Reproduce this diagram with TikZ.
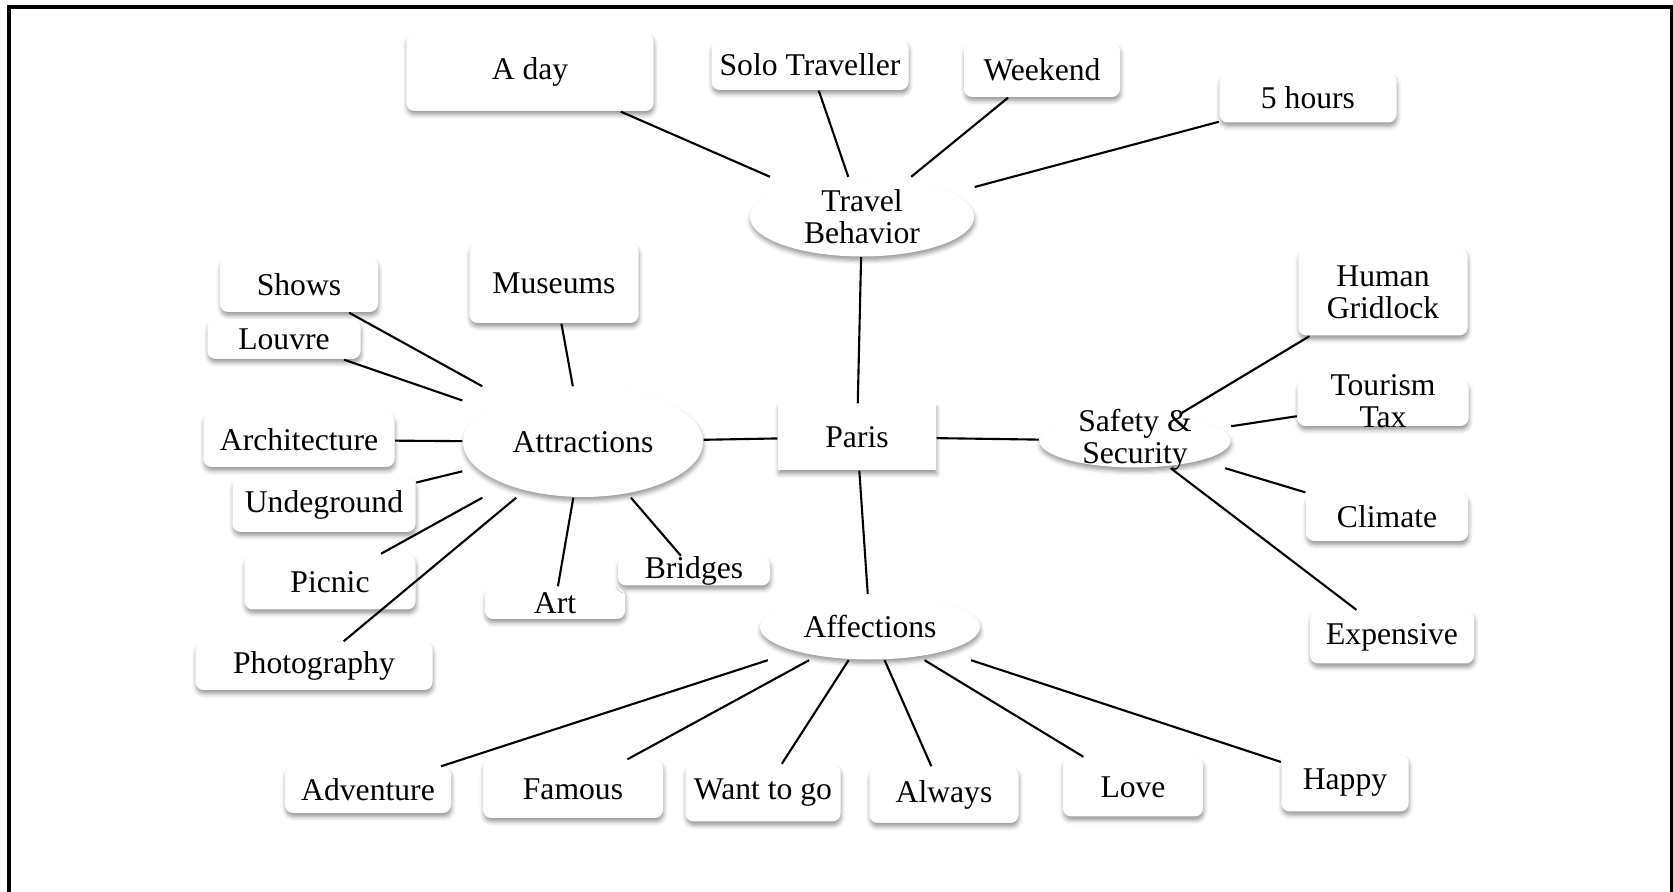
\documentclass[tikz,border=0pt]{standalone}
\usepackage{fontspec}
\setmainfont{Liberation Serif}
\usetikzlibrary{shapes.geometric,shadows.blur}
\begin{document}
\begin{tikzpicture}[x=0.01cm, y=-0.01cm,
  every node/.style={font=\fontsize{9pt}{9.1pt}\selectfont, inner sep=0pt, align=center},
  soft/.style={blur shadow={shadow xshift=0.2pt, shadow yshift=-1.1pt, shadow blur radius=1.2pt, shadow opacity=40}},
  card/.style 2 args={rectangle, rounded corners=2.3pt, fill=white, soft,
    minimum width=#1*0.01cm, minimum height=#2*0.01cm},
  plaincard/.style 2 args={rectangle, fill=white, soft,
    minimum width=#1*0.01cm, minimum height=#2*0.01cm},
  hub/.style 2 args={ellipse, fill=white, soft,
    minimum width=#1*0.01cm, minimum height=#2*0.01cm},
  hubframe/.style 2 args={rectangle, minimum width=#1*0.01cm, minimum height=#2*0.01cm},
  link/.style={line width=0.6pt, black}]

\useasboundingbox (0,0) rectangle (1673,892);
% outer frame, open at the bottom
\draw[line width=1.15pt] (9,892) -- (9,7) -- (1672,7) -- (1672,892);

% centre
\node[plaincard={158}{66}] (paris) at (857,437) {Paris};

% hubs: the ellipse and the rectangle the connectors meet
\node[hubframe={224}{79}] (travel) at (862,217) {};
\node[hub={224}{79}] (travelE) at (travel) {Travel\\Behavior};
\node[hubframe={240}{110}] (attr) at (583,442) {};
\node[hub={240}{110}] (attrE) at (attr) {Attractions};
\node[hubframe={191}{53}] (safety) at (1135,441) {};
\node[hub={191}{53}] (safetyE) at (safety) {};
\node (safetyT) at (1135,440) {Safety \&\\Security};
\node[hubframe={220}{65}] (affect) at (870,627) {};
\node[hub={220}{65}] (affectE) at (affect) {Affections};

% travel behaviour
\node[card={247}{78}] (aday) at (530,72) {A day};
\node[card={197}{50}] (solo) at (810,65) {Solo Traveller};
\node[card={156}{54}] (weekend) at (1042,70) {Weekend};
\node[card={177}{49}] (hours) at (1308,98) {5 hours};

% attractions
\node[card={158}{54}] (shows) at (299,285) {Shows};
\node[card={169}{80}] (museums) at (554,283) {Museums};
\node[card={153}{40}] (louvre) at (284,339) {Louvre};
\node[card={191}{54}] (archi) at (299,440) {Architecture};
\node[card={183}{54}] (under) at (324,505) {Undeground};
\node[card={171}{55}] (picnic) at (330,582) {Picnic};
\node[card={237}{48}] (photo) at (314,666) {Photography};
\node[card={140}{32}] (art) at (555,603) {Art};
\node[card={152}{29}] (bridges) at (694,571) {Bridges};

% safety & security
\node[card={169}{87}] (human) at (1383,292) {Human\\Gridlock};
\node[card={171}{46}] (tax) at (1383,403) {};
\node (taxT) at (1383,401) {Tourism\\Tax};
\node[card={162}{48}] (climate) at (1387,517) {Climate};
\node[card={164}{53}] (expensive) at (1392,637) {Expensive};

% affections
\node[card={166}{46}] (adventure) at (368,790) {Adventure};
\node[card={180}{58}] (famous) at (573,789) {Famous};
\node[card={155}{57}] (wantgo) at (763,793) {Want to go};
\node[card={149}{56}] (always) at (944,795) {Always};
\node[card={140}{59}] (love) at (1133,787) {Love};
\node[card={127}{57}] (happy) at (1345,783) {Happy};

% connectors
\foreach \n in {aday,solo,weekend,hours} \draw[link] (\n) -- (travel);
\foreach \n in {travel,attr,safety,affect} \draw[link] (paris) -- (\n);
\foreach \n in {shows,louvre,museums,archi,under,picnic,photo,art,bridges} \draw[link] (\n) -- (attr);
\foreach \n in {human,tax,climate,expensive} \draw[link] (\n) -- (safety);
\foreach \n in {adventure,famous,wantgo,always,love,happy} \draw[link] (\n) -- (affect);
\end{tikzpicture}
\end{document}
